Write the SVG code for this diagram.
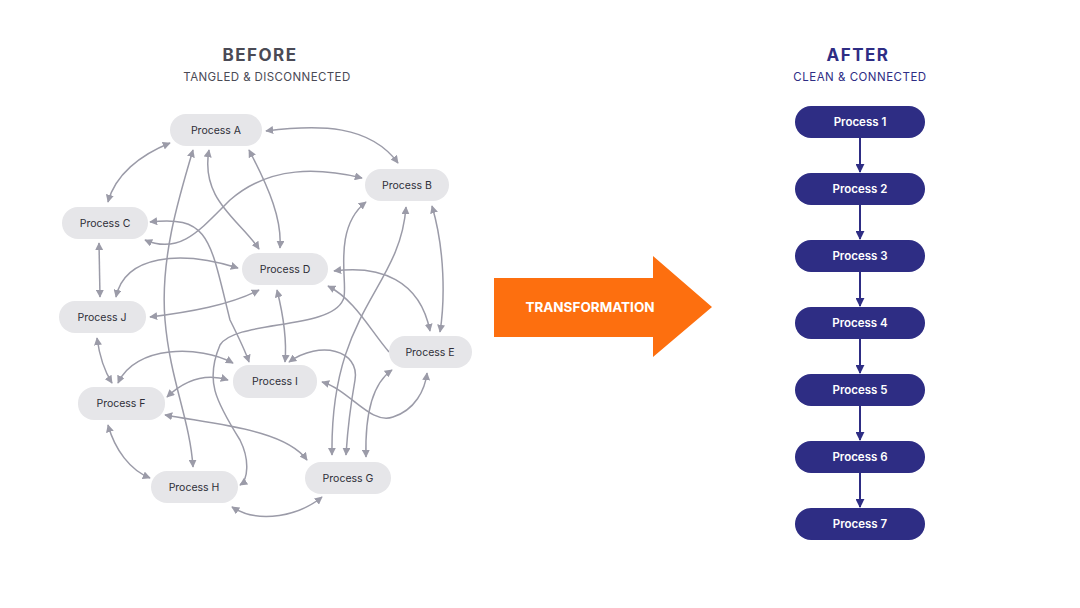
<svg xmlns="http://www.w3.org/2000/svg" width="1080" height="608" viewBox="0 0 1080 608">
<style>
.n rect{fill:#e6e6e9}
.n text{font-family:Inter,"Noto Sans",sans-serif;font-size:10.5px;fill:#2e2e38;text-anchor:middle}
.a rect{fill:#2e2d84}
.a text{font-family:Inter,"Noto Sans",sans-serif;font-size:11.5px;font-weight:600;fill:#fff;text-anchor:middle}
.e path{fill:none;stroke:#9b9ba8;stroke-width:1.5;marker-end:url(#g);marker-start:url(#g)}
.e path.s{marker-start:none}
.v line{stroke:#2e2d84;stroke-width:2;marker-end:url(#b)}
.t{font-family:Inter,"Noto Sans",sans-serif;text-anchor:middle}
</style>
<defs>
<marker id="g" viewBox="0 0 10 10" refX="9" refY="5" markerWidth="8" markerHeight="8" orient="auto-start-reverse" markerUnits="userSpaceOnUse"><path d="M0,0L10,5L0,10z" fill="#9b9ba8"/></marker>
<marker id="b" viewBox="0 0 10 10" refX="9" refY="5" markerWidth="9" markerHeight="9" orient="auto" markerUnits="userSpaceOnUse"><path d="M0,0L10,5L0,10z" fill="#2e2d84"/></marker>
</defs>
<rect width="1080" height="608" fill="#fff"/>
<text class="t" x="260" y="61" font-size="17" font-weight="700" fill="#4a4a55" letter-spacing="1.5">BEFORE</text>
<text class="t" x="267" y="81" font-size="11.5" fill="#4a4a55" letter-spacing="0.4">TANGLED &amp; DISCONNECTED</text>
<text class="t" x="858" y="61" font-size="17" font-weight="700" fill="#2e2d84" letter-spacing="1.5">AFTER</text>
<text class="t" x="860" y="81" font-size="11.5" fill="#2e2d84" letter-spacing="0.5">CLEAN &amp; CONNECTED</text>
<g class="e" id="connectors">
<path d="M266,131 C320,124 370,125 398,163"/>
<path d="M170,143 C140,155 115,175 108,202"/>
<path d="M193,150 C178,200 160,260 165,320 C170,380 190,420 193,467"/>
<path d="M209,150 C200,200 240,220 259,249"/>
<path d="M249,150 C270,190 282,220 280,248"/>
<path d="M145,240 C180,255 200,230 230,200 C270,165 320,168 362,178"/>
<path d="M150,222 C210,215 210,240 230,320 C240,340 245,350 249,362"/>
<path d="M99,243 L100,297"/>
<path d="M116,297 C125,255 180,250 238,268"/>
<path d="M150,317 C190,312 230,305 259,290"/>
<path d="M277,290 C282,310 287,340 285,362"/>
<path d="M334,271 C380,265 420,280 430,331"/>
<path class="s" d="M389,352 C370,330 355,300 328,286"/>
<path d="M366,202 C330,230 350,290 343,300 C330,330 235,320 220,345 C205,380 215,400 240,440 C250,460 248,480 240,485"/>
<path d="M406,207 C400,290 330,310 332,455"/>
<path d="M289,362 C320,340 360,350 355,380 C348,420 347,440 346,455"/>
<path d="M432,206 C445,250 445,300 440,332"/>
<path d="M322,382 C350,390 370,425 393,417 C415,410 425,390 427,373"/>
<path d="M392,370 C370,385 365,420 366,457"/>
<path d="M118,383 C135,345 200,345 233,363"/>
<path d="M167,397 C185,380 205,373 228,380"/>
<path d="M97,338 C100,360 105,372 112,383"/>
<path d="M108,425 C115,450 130,470 150,478"/>
<path d="M165,415 C220,425 285,430 307,460"/>
<path d="M232,507 C260,525 300,515 322,497"/>
</g>
<g class="n" id="nodeA"><rect x="170" y="114" width="92" height="32" rx="16"/><text x="216" y="134">Process A</text></g>
<g class="n" id="nodeB"><rect x="365" y="169" width="84" height="32" rx="16"/><text x="407" y="189">Process B</text></g>
<g class="n" id="nodeC"><rect x="62" y="207" width="86" height="32" rx="16"/><text x="105" y="227">Process C</text></g>
<g class="n" id="nodeD"><rect x="242" y="253" width="86" height="32" rx="16"/><text x="285" y="273">Process D</text></g>
<g class="n" id="nodeJ"><rect x="59" y="301" width="87" height="32" rx="16"/><text x="102" y="321">Process J</text></g>
<g class="n" id="nodeE"><rect x="389" y="336" width="83" height="32" rx="16"/><text x="430" y="356">Process E</text></g>
<g class="n" id="nodeI"><rect x="233" y="365" width="84" height="33" rx="16"/><text x="275" y="385">Process I</text></g>
<g class="n" id="nodeF"><rect x="78" y="387" width="87" height="33" rx="16"/><text x="121" y="407">Process F</text></g>
<g class="n" id="nodeH"><rect x="151" y="471" width="87" height="32" rx="16"/><text x="194" y="491">Process H</text></g>
<g class="n" id="nodeG"><rect x="305" y="462" width="86" height="32" rx="16"/><text x="348" y="482">Process G</text></g>
<g id="transformation">
<polygon points="494,278 653,278 653,256 712,307 653,357 653,337 494,337" fill="#fd6f0f"/>
<text class="t" x="590" y="312" font-size="13.5" font-weight="700" fill="#fff">TRANSFORMATION</text>
</g>
<g class="v" id="flow">
<line x1="860" y1="138" x2="860" y2="172"/>
<line x1="860" y1="205" x2="860" y2="239"/>
<line x1="860" y1="272" x2="860" y2="306"/>
<line x1="860" y1="339" x2="860" y2="373"/>
<line x1="860" y1="406" x2="860" y2="440"/>
<line x1="860" y1="473" x2="860" y2="507"/>
</g>
<g class="a" id="p1"><rect x="795" y="106" width="130" height="32" rx="16"/><text x="860" y="126">Process 1</text></g>
<g class="a" id="p2"><rect x="795" y="173" width="130" height="32" rx="16"/><text x="860" y="193">Process 2</text></g>
<g class="a" id="p3"><rect x="795" y="240" width="130" height="32" rx="16"/><text x="860" y="260">Process 3</text></g>
<g class="a" id="p4"><rect x="795" y="307" width="130" height="32" rx="16"/><text x="860" y="327">Process 4</text></g>
<g class="a" id="p5"><rect x="795" y="374" width="130" height="32" rx="16"/><text x="860" y="394">Process 5</text></g>
<g class="a" id="p6"><rect x="795" y="441" width="130" height="32" rx="16"/><text x="860" y="461">Process 6</text></g>
<g class="a" id="p7"><rect x="795" y="508" width="130" height="32" rx="16"/><text x="860" y="528">Process 7</text></g>
</svg>
